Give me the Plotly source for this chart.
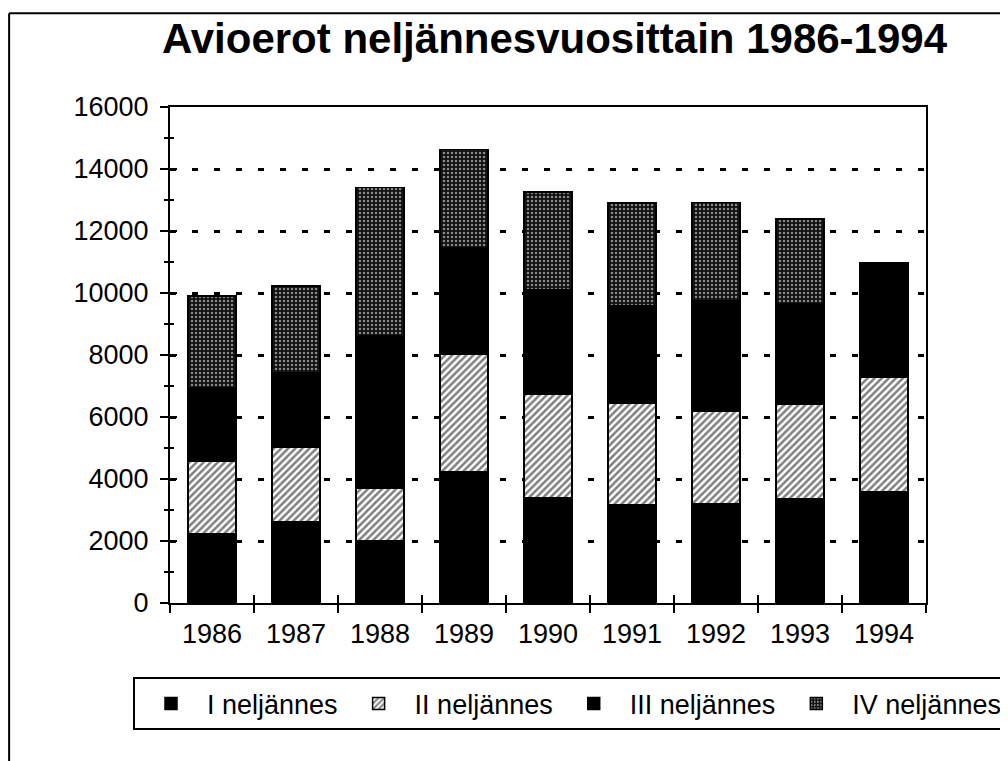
import plotly.graph_objects as go

years = ["1986", "1987", "1988", "1989", "1990", "1991", "1992", "1993", "1994"]
q1 = [2240, 2610, 2020, 4230, 3390, 3170, 3210, 3370, 3600]
q2 = [2340, 2400, 1670, 3790, 3345, 3280, 2990, 3040, 3670]
q3 = [2370, 2420, 4945, 3440, 3380, 3150, 3550, 3250, 3720]
q4 = [2950, 2790, 4765, 3170, 3150, 3300, 3170, 2720, None]
names = ["I neljännes", "II neljännes", "III neljännes", "IV neljännes"]
title_text = "Avioerot neljännesvuosittain 1986-1994"

FONT = "Liberation Sans, Arial, sans-serif"
W, H = 1000, 753  # page body has an 8px margin

patterns = [
    dict(shape=""),
    dict(shape="/", fgcolor="black", bgcolor="white", size=5, solidity=0.5),
    dict(shape=""),
    dict(shape=".", fgcolor="white", bgcolor="#111111", size=4, solidity=0.3),
]
fills = ["black", "white", "black", "#111111"]

fig = go.Figure()
for name, vals, pat, col in zip(names, [q1, q2, q3, q4], patterns, fills):
    fig.add_trace(go.Bar(
        x=years, y=vals, name=name,
        marker=dict(color=col, pattern=pat, line=dict(color="black", width=1.5)),
    ))

# invisible trace to host overlay axes (crossing ticks)
fig.add_trace(go.Scatter(x=[], y=[], xaxis="x2", yaxis="y2", showlegend=False,
                         hoverinfo="skip"))

fig.update_layout(
    width=W, height=H,
    barmode="stack", bargap=0.43,
    plot_bgcolor="white", paper_bgcolor="white",
    margin=dict(l=162, r=82, t=99, b=158),
    font=dict(family=FONT, size=27, color="black"),
    title=dict(text="<b>" + title_text + "</b>", x=0.5465, xref="container",
               xanchor="center", y=1 - 30 / H, yanchor="middle",
               font=dict(family=FONT, size=42, color="black")),
    showlegend=True,
    legend=dict(orientation="h", x=-0.044, xanchor="left", y=-0.15, yanchor="top",
                bordercolor="black", borderwidth=2, traceorder="normal",
                font=dict(family=FONT, size=27, color="black"),
                itemwidth=62, bgcolor="white"),
    xaxis=dict(showline=True, linecolor="black", linewidth=2, mirror=True,
               ticks="outside", tickson="boundaries", ticklen=8, tickwidth=2,
               tickcolor="black", showgrid=False, ticklabelstandoff=6,
               tickfont=dict(size=27)),
    yaxis=dict(range=[0, 16000], dtick=2000, tickformat="d",
               showline=True, linecolor="black", linewidth=2, mirror=True,
               ticks="outside", ticklen=8, tickwidth=2, tickcolor="black",
               showgrid=True, gridcolor="black", gridwidth=2.5, griddash="6px,16px",
               zeroline=False, ticklabelstandoff=6,
               minor=dict(dtick=1000, ticks="outside", ticklen=4, tickwidth=2,
                          tickcolor="black", showgrid=False),
               tickfont=dict(size=27)),
    xaxis2=dict(overlaying="x", range=[-0.5, 8.5], tick0=0.5, dtick=1,
                ticks="inside", ticklen=8, tickwidth=2, tickcolor="black",
                showticklabels=False, showgrid=False, zeroline=False,
                showline=False, anchor="y"),
    yaxis2=dict(overlaying="y", matches="y", ticks="inside", ticklen=7,
                tickwidth=2, tickcolor="black", dtick=2000,
                showticklabels=False, showgrid=False, zeroline=False,
                showline=False, side="left", anchor="x",
                minor=dict(dtick=1000, ticks="inside", ticklen=4, tickwidth=2,
                           tickcolor="black", showgrid=False)),
    shapes=[
        dict(type="line", xref="paper", yref="paper", x0=-0.2128, x1=1.12,
             y0=1.189, y1=1.189, line=dict(color="black", width=2)),
        dict(type="line", xref="paper", yref="paper", x0=-0.2128, x1=-0.2128,
             y0=1.189, y1=-0.33, line=dict(color="black", width=2)),
    ],
)

fig.write_html("out.html")
